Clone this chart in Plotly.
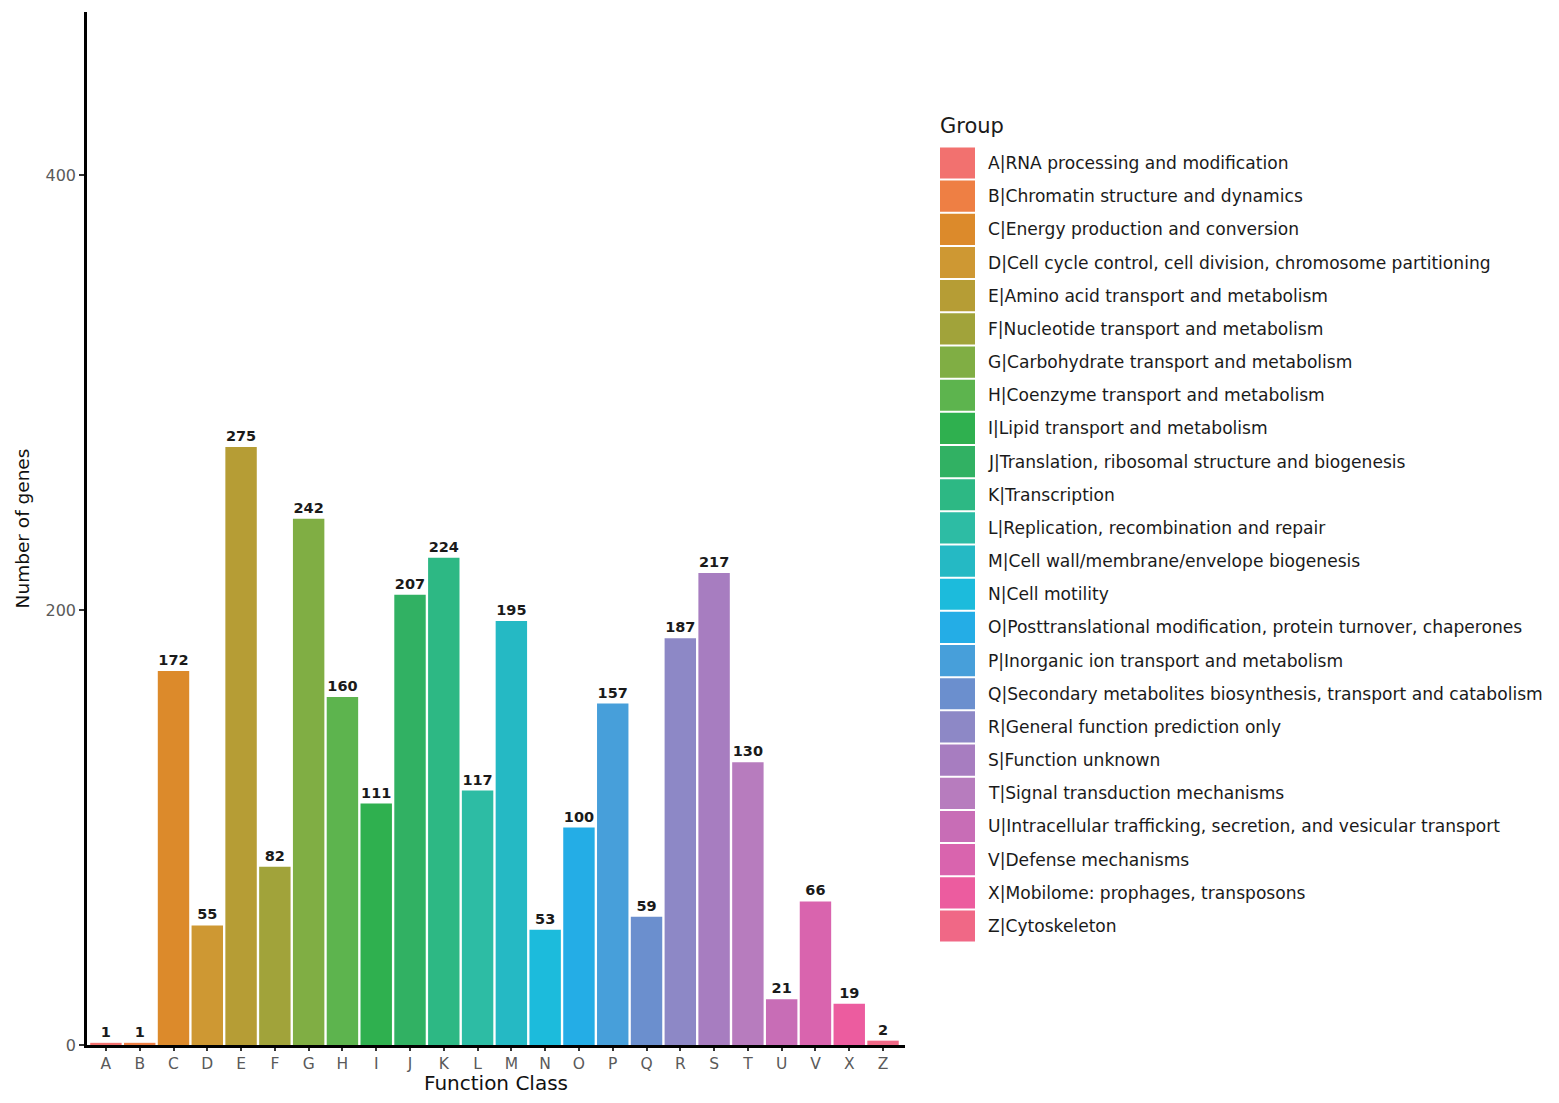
import plotly.graph_objects as go

# ---- data ----
codes = ["A","B","C","D","E","F","G","H","I","J","K","L","M","N","O","P","Q","R","S","T","U","V","X","Z"]
counts = [1,1,172,55,275,82,242,160,111,207,224,117,195,53,100,157,59,187,217,130,21,66,19,2]
descriptions = [
    "RNA processing and modification",
    "Chromatin structure and dynamics",
    "Energy production and conversion",
    "Cell cycle control, cell division, chromosome partitioning",
    "Amino acid transport and metabolism",
    "Nucleotide transport and metabolism",
    "Carbohydrate transport and metabolism",
    "Coenzyme transport and metabolism",
    "Lipid transport and metabolism",
    "Translation, ribosomal structure and biogenesis",
    "Transcription",
    "Replication, recombination and repair",
    "Cell wall/membrane/envelope biogenesis",
    "Cell motility",
    "Posttranslational modification, protein turnover, chaperones",
    "Inorganic ion transport and metabolism",
    "Secondary metabolites biosynthesis, transport and catabolism",
    "General function prediction only",
    "Function unknown",
    "Signal transduction mechanisms",
    "Intracellular trafficking, secretion, and vesicular transport",
    "Defense mechanisms",
    "Mobilome: prophages, transposons",
    "Cytoskeleton",
]
colors = ["#F2716F","#EE7F44","#DC8A2B","#CE9833","#B69D35","#A1A33A","#80AE44","#5DB44E",
          "#2FB04F","#31B163","#2DB884","#2DBCA4","#25B9C4","#1CBBDC","#24ADE6","#479FDA",
          "#6B8FCE","#8D88C6","#A77DC0","#B77CBE","#C86DB6","#D964AE","#EC5C9F","#F06886"]
y_ticks = [0, 200, 400]

OFF = 8  # page body margin
W, H = 1559 - 2 * OFF, 1103 - 2 * OFF
L, R, T, B = 87 - OFF, 905 - OFF, 12 - OFF, 1045 - OFF  # plot area in figure pixels

def px(x):
    return (x - OFF - L) / (R - L)

def py(y):
    return (B - (y - OFF)) / (B - T)

FONT = "DejaVu Sans, Arial, sans-serif"

fig = go.Figure()
fig.add_trace(go.Bar(
    x=codes, y=counts,
    marker=dict(color=colors, line=dict(width=0)),
    width=0.93,
    text=[str(v) for v in counts],
    textposition="outside",
    textfont=dict(family=FONT, size=14.5, color="#1a1a1a", weight="bold"),
    cliponaxis=False,
    showlegend=False,
))

shapes = []
annotations = []
# legend title
annotations.append(dict(x=px(938), y=py(126), xref="paper", yref="paper", text="Group",
                        showarrow=False, xanchor="left", yanchor="middle",
                        font=dict(family=FONT, size=21, color="#1a1a1a")))
pitch = (926 - 163) / 23
for i, (c, d, col) in enumerate(zip(codes, descriptions, colors)):
    cy = 163 + i * pitch
    shapes.append(dict(type="rect", xref="paper", yref="paper",
                       x0=px(940), x1=px(975), y0=py(cy - pitch / 2 + 1), y1=py(cy + pitch / 2 - 1),
                       fillcolor=col, line=dict(width=0)))
    annotations.append(dict(x=px(986), y=py(cy), xref="paper", yref="paper",
                            text=f"{c}|{d}", showarrow=False, xanchor="left", yanchor="middle",
                            font=dict(family=FONT, size=17.1, color="#1a1a1a")))

fig.update_layout(
    width=W, height=H,
    margin=dict(l=L, r=W - R, t=T, b=H - B, pad=0),
    paper_bgcolor="white", plot_bgcolor="white",
    font=dict(family=FONT),
    xaxis=dict(
        range=[-0.56, 23.65], showgrid=False, zeroline=False,
        showline=True, linecolor="black", linewidth=2.5,
        ticks="outside", ticklen=3, tickcolor="#333333", tickwidth=1.5,
        tickfont=dict(family=FONT, size=15.5, color="#5a5a5a"),
        title=dict(text="Function Class", font=dict(family=FONT, size=20, color="#111111"), standoff=3),
    ),
    yaxis=dict(
        range=[0, 475], showgrid=False, zeroline=False,
        tickvals=y_ticks,
        showline=True, linecolor="black", linewidth=2.5,
        ticks="outside", ticklen=5, tickcolor="#333333", tickwidth=1.5,
        tickfont=dict(family=FONT, size=16, color="#5a5a5a"),
        title=dict(text="Number of genes", font=dict(family=FONT, size=18.5, color="#111111"), standoff=12),
    ),
    shapes=shapes,
    annotations=annotations,
    bargap=0.07,
)

fig.write_html("out.html")
